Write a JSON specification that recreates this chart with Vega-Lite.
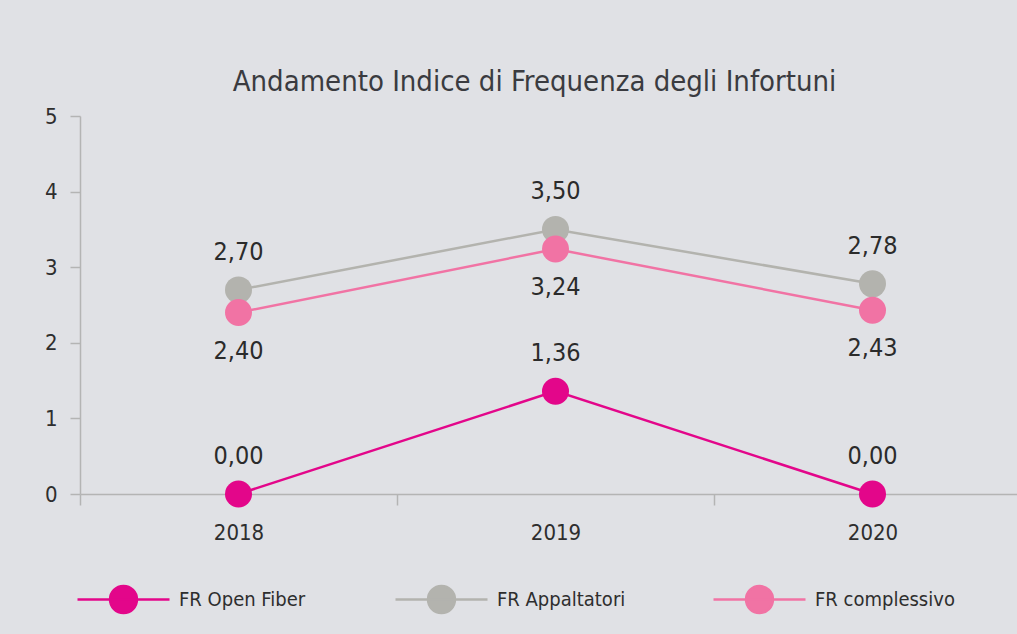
{
  "$schema": "https://vega.github.io/schema/vega-lite/v6.json",
  "width": 937,
  "height": 378,
  "autosize": {"type": "none"},
  "padding": {"left": 80, "top": 116, "right": 0, "bottom": 140},
  "background": "#e0e1e5",
  "config": {
    "locale": {"number": {"decimal": ",", "thousands": ".", "grouping": [3], "currency": ["", " €"]}},
    "view": {"stroke": null},
    "font": "DejaVu Sans Condensed, DejaVu Sans, sans-serif"
  },
  "title": {
    "text": "Andamento Indice di Frequenza degli Infortuni",
    "fontSize": 29,
    "fontWeight": "normal",
    "color": "#3a3b40",
    "anchor": "middle",
    "dx": -14,
    "offset": 8
  },
  "data": {
    "values": [
      {"anno": "2018", "serie": "FR Open Fiber", "valore": 0.00},
      {"anno": "2019", "serie": "FR Open Fiber", "valore": 1.36},
      {"anno": "2020", "serie": "FR Open Fiber", "valore": 0.00},
      {"anno": "2018", "serie": "FR Appaltatori", "valore": 2.70},
      {"anno": "2019", "serie": "FR Appaltatori", "valore": 3.50},
      {"anno": "2020", "serie": "FR Appaltatori", "valore": 2.78},
      {"anno": "2018", "serie": "FR complessivo", "valore": 2.40},
      {"anno": "2019", "serie": "FR complessivo", "valore": 3.24},
      {"anno": "2020", "serie": "FR complessivo", "valore": 2.43}
    ]
  },
  "encoding": {
    "x": {
      "field": "anno",
      "type": "ordinal",
      "scale": {"range": [0, 951], "paddingInner": 0, "paddingOuter": 0},
      "axis": {
        "title": null,
        "labelAngle": 0,
        "tickBand": "extent",
        "tickSize": 11,
        "tickColor": "#b4b4b4",
        "tickWidth": 1.5,
        "domainColor": "#b4b4b4",
        "domainWidth": 1.5,
        "labelFontSize": 22,
        "labelColor": "#2e2e2e",
        "labelPadding": 17
      }
    },
    "y": {
      "field": "valore",
      "type": "quantitative",
      "scale": {"domain": [0, 5]},
      "axis": {
        "title": null,
        "grid": false,
        "values": [0, 1, 2, 3, 4, 5],
        "tickSize": 10,
        "tickColor": "#b4b4b4",
        "tickWidth": 1.5,
        "domainColor": "#b4b4b4",
        "domainWidth": 1.5,
        "labelFontSize": 22,
        "labelColor": "#2e2e2e",
        "labelPadding": 13
      }
    },
    "color": {
      "field": "serie",
      "type": "nominal",
      "scale": {
        "domain": ["FR Open Fiber", "FR Appaltatori", "FR complessivo"],
        "range": ["#e3068a", "#b3b3ae", "#f173a4"]
      },
      "legend": {
        "title": null,
        "orient": "none",
        "legendX": -4,
        "legendY": 436,
        "direction": "horizontal",
        "columns": 3,
        "gridAlign": "all",
        "columnPadding": 71,
        "padding": 0,
        "symbolType": "M-1,0H1M-0.293,0A0.293,0.293,0,1,1,0.293,0A0.293,0.293,0,1,1,-0.293,0Z",
        "symbolSize": 8464,
        "symbolStrokeWidth": 2.5,
        "labelFontSize": 20,
        "labelColor": "#2e2e2e",
        "labelOffset": 8,
        "labelLimit": 300,
        "encode": {
          "symbols": {
            "update": {
              "fill": {"scale": "color", "field": "value"},
              "stroke": {"scale": "color", "field": "value"},
              "strokeWidth": {"value": 2.5},
              "opacity": {"value": 1},
              "fillOpacity": {"value": 1}
            }
          }
        }
      }
    }
  },
  "layer": [
    {"mark": {"type": "line", "strokeWidth": 2.5}},
    {"mark": {"type": "point", "filled": true, "opacity": 1, "size": 729}},
    {
      "transform": [{"filter": "datum.serie !== 'FR complessivo'"}],
      "mark": {"type": "text", "dy": -38, "fontSize": 25, "baseline": "middle"},
      "encoding": {
        "text": {"field": "valore", "type": "quantitative", "format": ".2f"},
        "color": {"value": "#2b2b2b"}
      }
    },
    {
      "transform": [{"filter": "datum.serie === 'FR complessivo'"}],
      "mark": {"type": "text", "dy": 38, "fontSize": 25, "baseline": "middle"},
      "encoding": {
        "text": {"field": "valore", "type": "quantitative", "format": ".2f"},
        "color": {"value": "#2b2b2b"}
      }
    }
  ]
}
